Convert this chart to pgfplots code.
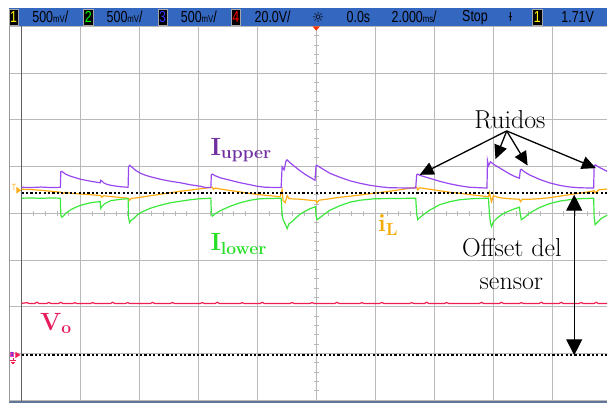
\documentclass[border=0pt]{standalone}
\usepackage{fontspec}
\usepackage{pgfplots}
\pgfplotsset{compat=1.18}
\usetikzlibrary{arrows.meta}
\newfontfamily\oscfont[FakeStretch=0.78]{Liberation Sans}
\newfontfamily\dejavu{DejaVu Sans}
\definecolor{barblue}{RGB}{52,103,192}
\definecolor{ptrace}{RGB}{152,72,238}
\definecolor{plabel}{RGB}{112,48,160}
\definecolor{gtrace}{RGB}{60,232,60}
\definecolor{glabel}{RGB}{40,222,40}
\definecolor{otrace}{RGB}{255,172,20}
\definecolor{olabel}{RGB}{245,170,0}
\definecolor{rtrace}{RGB}{240,30,80}
\definecolor{rlabel}{RGB}{232,30,92}
\definecolor{gridc}{RGB}{185,185,185}
\newcommand\un[1]{{\fontsize{10}{10}\selectfont #1}}
\begin{document}
\begin{tikzpicture}
\begin{axis}[scale only axis,
  width=608pt, height=405pt,
  xmin=0, xmax=608, ymin=0, ymax=405, y dir=reverse,
  axis line style={draw=none},
  xtick={20.7,79.8,138.9,198.0,257.1,316.2,375.3,434.4,493.5,552.6},
  ytick={26,72.875,119.75,166.625,213.5,260.375,307.25,354.125,401},
  xticklabels={}, yticklabels={}, major tick length=0pt,
  xticklabel style={inner sep=0pt, outer sep=0pt},
  yticklabel style={inner sep=0pt, outer sep=0pt},
  grid=major, major grid style={draw=gridc, line width=0.7pt},
  clip=false]
% margins and top bar
\fill[white] (axis cs:0,0) rectangle (axis cs:608,8);
\fill[white] (axis cs:0,0) rectangle (axis cs:8,405);
\fill[white] (axis cs:0,401.5) rectangle (axis cs:608,405);
\fill[barblue] (axis cs:8,8) rectangle (axis cs:608,26);
\fill[gray!60!barblue] (axis cs:8,402) rectangle (axis cs:608,404.2);
\draw[gray!80, line width=0.6pt] (axis cs:8,26) -- (axis cs:8,403);
% minor ticks on center lines
\pgfplotsinvokeforeach{1,...,39}{
  \draw[gridc, line width=0.6pt] (axis cs:{313.7},{26+#1*9.375}) -- (axis cs:{318.7},{26+#1*9.375});
}
\pgfplotsinvokeforeach{1,...,49}{
  \draw[gridc, line width=0.6pt] (axis cs:{20.7+#1*11.82},{211}) -- (axis cs:{20.7+#1*11.82},{216});
}
\draw[gray!75!black, line width=0.8pt] (axis cs:20.7,26) -- (axis cs:20.7,402);
% top bar contents
\tikzset{chb/.style={fill=black, draw=gray!70, line width=0.4pt, minimum width=9.5pt, minimum height=16.5pt, inner sep=0pt, font=\oscfont\fontsize{16}{16}\selectfont},
 bt/.style={inner sep=0pt, font=\oscfont\fontsize{16}{16}\selectfont, text=black}}
\node[chb, text=yellow] at (axis cs:12.7,17) {1};
\node[bt] at (axis cs:49.5,17) {500\un{mV}/};
\node[chb, text=green] at (axis cs:87.7,17) {2};
\node[bt] at (axis cs:124,17) {500\un{mV}/};
\node[chb, text=blue!80!white] at (axis cs:162,17) {3};
\node[bt] at (axis cs:198.5,17) {500\un{mV}/};
\node[chb, text=red] at (axis cs:235.5,17) {4};
\node[bt] at (axis cs:272.5,17) {20.0V/};
\node[bt, font=\dejavu\fontsize{14}{14}\selectfont] at (axis cs:318,17) {☼};
\node[bt] at (axis cs:358.5,17) {0.0s};
\node[bt] at (axis cs:414.5,17) {2.000\un{ms}/};
\node[bt] at (axis cs:475.5,17) {Stop};
\node[bt, font=\dejavu\fontsize{12}{12}\selectfont] at (axis cs:511,17) {ƚ};
\node[chb, text=yellow] at (axis cs:538,17) {1};
\node[bt] at (axis cs:578.5,17) {1.71V};
% Vo trace
\addplot[rtrace, line width=1.2pt] coordinates {
(20.7,304)(26,303.2)(28,304)(34,304)(36,302.8)(38,304)(46,304)(48,303)(50,304)(58,304)(60,302.9)(62,304)
(72,304)(74,303.3)(76,304)(90,304)(92,303.2)(94,304)(110,304)(112,302.9)(114,304)(125,304)(127,303.2)(129,304)
(150,304)(152,303)(154,304)(170,304)(172,303.1)(174,304)(200,304)(202,303.2)(204,304)(215,304)(217,302.8)(219,304)
(240,304)(242,303.3)(244,304)(260,304)(262,302.9)(264,304)(290,304)(292,303.1)(294,304)(310,304)(312,303.2)(314,304)
(335,304)(337,302.9)(339,304)(360,304)(362,303.2)(364,304)(380,304)(382,303)(384,304)(410,304)(412,303.2)(414,304)
(425,304)(427,302.8)(429,304)(445,304)(447,303.1)(449,304)(480,304)(482,303)(484,304)(500,304)(502,302.9)(504,304)
(520,304)(522,303.2)(524,304)(540,304)(542,302.8)(544,304)(560,304)(562,303)(564,304)(580,304)(582,303.1)(584,304)
(595,304)(597,302.9)(599,304)(608,304)};
% orange iL
\addplot[otrace, line width=1.2pt] coordinates {
(20.7,189.5)(30,189.8)(40,190.5)(50,191.5)(60,192.5)(62,194)(64,192.6)(70,193.5)(80,194.3)(90,195)(100,195.8)(101,197.5)(103,196)
(110,196.8)(120,197.8)(128,198.5)(129,200.5)(131,198.5)(135,198.3)(140,197.5)(150,196)(160,194.5)(170,193)(180,191.5)(190,190.3)
(200,189)(210,187.8)(212,187.5)(213,189.5)(215,188.3)(220,189.3)(230,190.8)(240,192.2)(250,193.8)(260,195)(270,196)(280,197)
(282,190)(283,201)(285,203)(287,196)(289,199)(300,199.5)(310,200.5)(316,201)(317,203)(319,200.5)(330,199)(340,197.5)(350,196.5)
(360,195.3)(370,194)(380,192.8)(390,191.5)(400,190)(410,188.5)(417,187.5)(418,190)(420,188)(430,189.5)(440,191)(450,192.5)
(460,193.5)(470,194.8)(480,196)(489,197)(490,193)(492,202)(494,196)(500,198)(510,199)(520,199.5)(521,202)(523,199.5)(530,199.5)
(540,199)(550,198)(560,196.5)(570,195)(580,193.5)(590,192)(595,191)(596,193)(600,190)(608,189.3)};
% green Ilower
\addplot[gtrace, line width=1.2pt] coordinates {
(20.7,198.5)(30,198.2)(40,198.6)(50,198.2)(59.5,198.5)
(60,215)(61,217.5)(63,216)(65,213.5)(70,210)(75,207.5)(80,205.5)(90,203)(99.5,201.8)
(100,208.5)(101,207)(104,204)(110,201)(120,199.5)(127.5,199)
(128,218)(129,223)(130,221)(133,219)(137,215)(142,212)(150,208.5)(160,205.5)(170,203)(180,201.5)(190,200)(200,199)(210.5,198.5)
(211,213)(212,216.5)(215,214)(220,211)(230,206.5)(240,203)(250,200.5)(260,199)(281,198.5)
(282,214)(283,220)(285,224)(287,229)(289,224)(292,222)(296,218)(300,214.5)(305,211.5)(310,209)(315.5,207)
(316,216)(317,220)(320,218)(325,214)(330,210.5)(340,206)(350,202.5)(360,200.5)(375,199)(416,198.5)
(417,214)(418,220)(420,218)(425,214)(430,210.5)(440,205)(450,202)(460,200)(475,198.8)(489,198.5)
(490,215)(491,223)(492,227)(494,222)(497,219)(502,215)(508,212)(514,209.5)(520,207.5)
(521,215)(522,220)(525,218)(530,213.5)(540,208)(550,204)(560,201.5)(570,200)(580,199)(594.5,198.5)
(595,217)(596,225)(598,223)(602,219)(608,215.5)};
% purple Iupper
\addplot[ptrace, line width=1.2pt] coordinates {
(20.7,187.5)(30,187.8)(40,187.3)(50,187.8)(59.5,187.6)
(60,172)(61,171.5)(65,174.5)(70,176.5)(75,178)(80,179.5)(85,180.5)(90,181.5)(95,182.3)(99.5,183)
(100,180.5)(101,181)(103,183)(106,184.5)(110,185.5)(115,186.3)(120,187)(127.5,187.5)
(128,167)(129,165.5)(131,167)(135,170.5)(140,173.5)(145,175.5)(150,177)(160,179.5)(170,181.5)(180,183)(190,185)(200,186.5)(205,187.7)(210.5,187.8)
(211,175)(212,174.3)(215,176)(220,178)(230,180.5)(240,183)(250,185)(257,186.5)(265,187.5)(281,187.8)
(282,167)(284,170)(286,161)(287,160)(290,163)(295,167)(300,171)(305,174.5)(310,177.5)(315,180.5)
(316,166)(317,165.5)(320,167.5)(325,170.5)(330,173.5)(340,177.5)(350,181)(360,183.5)(370,185.5)(380,187)(390,188)(416,188.3)
(417,175)(418,174.3)(420,175.5)(425,177)(430,178.5)(440,181.5)(450,184)(460,186)(470,187.5)(487.5,188.3)
(488,161)(489,166)(491,162)(495,165)(500,168)(505,171)(510,174)(515,176.5)(520,178.5)
(521,170)(522,169.5)(525,172)(530,175)(540,179.5)(550,183)(560,185.5)(570,187.2)(580,188)(594.5,188.3)
(595,166)(596,165)(600,167.5)(605,170)(608,171.5)};
% dotted reference lines
\addplot[black, line width=1.8pt, dash pattern=on 2.2pt off 2.2pt] coordinates {(20.7,193.3)(608,193.3)};
\addplot[black, line width=1.8pt, dash pattern=on 2.2pt off 2.2pt] coordinates {(20.7,355.7)(608,355.7)};
% trigger marker
\fill[red!60!orange] (axis cs:312.5,26) -- (axis cs:320,26) -- (axis cs:316.2,30.5) -- cycle;
% left markers
\node[otrace, inner sep=0pt, font=\oscfont\fontsize{9}{9}\selectfont] at (axis cs:13,187.5) {T};
\fill[otrace] (axis cs:15.5,187) -- (axis cs:20,190.5) -- (axis cs:15.5,194) -- cycle;
\node[fill=magenta!70, text=blue, inner sep=0.6pt, font=\oscfont\fontsize{6}{6}\selectfont] at (axis cs:11,355.5) {3};
\fill[rtrace] (axis cs:14.5,352.5) -- (axis cs:19.5,355.7) -- (axis cs:14.5,358.8) -- cycle;
\draw[rtrace, line width=0.8pt] (axis cs:12,359) -- (axis cs:12,361.5) (axis cs:9,361.5) -- (axis cs:15,361.5) (axis cs:10,363) -- (axis cs:14,363) (axis cs:11,364.5) -- (axis cs:13,364.5);
% labels
\node[anchor=base west, inner sep=0pt, text=plabel, font=\fontsize{25}{30}\selectfont\bfseries] at (axis cs:210,155.5) {I\raisebox{-3.5pt}{\fontsize{17.5}{20}\selectfont upper}};
\node[anchor=base west, inner sep=0pt, text=glabel, font=\fontsize{25}{30}\selectfont\bfseries] at (axis cs:210,251) {I\raisebox{-3.5pt}{\fontsize{17.5}{20}\selectfont lower}};
\node[anchor=base west, inner sep=0pt, text=olabel, font=\fontsize{25}{30}\selectfont\bfseries] at (axis cs:378,232) {i\raisebox{-3.5pt}{\fontsize{17.5}{20}\selectfont L}};
\node[anchor=base west, inner sep=0pt, text=rlabel, font=\fontsize{25}{30}\selectfont\bfseries] at (axis cs:39,331) {V\raisebox{-3.5pt}{\fontsize{17.5}{20}\selectfont o}};
\node[anchor=base, inner sep=0pt, font=\fontsize{26}{30}\selectfont] at (axis cs:510.5,129) {Ruidos};
\node[anchor=base, inner sep=0pt, font=\fontsize{26}{30}\selectfont] at (axis cs:512.5,257) {Offset del};
\node[anchor=base, inner sep=0pt, font=\fontsize{26}{30}\selectfont] at (axis cs:512,290) {sensor};
% arrows
\draw[line width=1.3pt, -{Triangle[length=14pt,width=13pt]}] (axis cs:507.3,131) -- (axis cs:420,175);
\draw[line width=1.3pt, -{Triangle[length=14pt,width=13pt]}] (axis cs:507.3,131) -- (axis cs:496,159.3);
\draw[line width=1.3pt, -{Triangle[length=14pt,width=13pt]}] (axis cs:507.3,131) -- (axis cs:528.3,165.7);
\draw[line width=1.3pt, -{Triangle[length=14pt,width=13pt]}] (axis cs:507.3,131) -- (axis cs:596.7,168.3);
\draw[line width=1.3pt, {Triangle[length=16pt,width=16pt]}-{Triangle[length=16pt,width=16pt]}] (axis cs:575,195) -- (axis cs:575,356);
\end{axis}
\end{tikzpicture}
\end{document}
